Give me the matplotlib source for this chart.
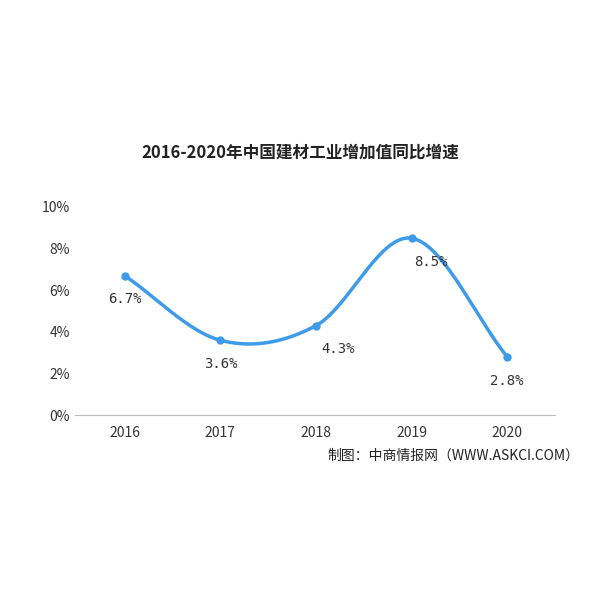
import numpy as np
import matplotlib
matplotlib.use("Agg")
import matplotlib.pyplot as plt

plt.rcParams['font.family'] = ['Noto Sans CJK SC', 'DejaVu Sans']

years = [2016, 2017, 2018, 2019, 2020]
growth = [6.7, 3.6, 4.3, 8.5, 2.8]
labels = ["6.7%", "3.6%", "4.3%", "8.5%", "2.8%"]
yticks = [0, 2, 4, 6, 8, 10]
label_dx = [0, 0, 16, 14, 0]

def catmull(x, y, n=40):
    x = np.asarray(x, float); y = np.asarray(y, float)
    px = np.concatenate([[2*x[0]-x[1]], x, [2*x[-1]-x[-2]]])
    py = np.concatenate([[2*y[0]-y[1]], y, [2*y[-1]-y[-2]]])
    xs, ys = [], []
    t = np.linspace(0, 1, n)
    for i in range(1, len(px)-2):
        p0, p1, p2, p3 = py[i-1], py[i], py[i+1], py[i+2]
        yy = 0.5*((2*p1) + (-p0+p2)*t + (2*p0-5*p1+4*p2-p3)*t**2 + (-p0+3*p1-3*p2+p3)*t**3)
        xx = px[i] + (px[i+1]-px[i])*t
        xs.append(xx); ys.append(yy)
    return np.concatenate(xs), np.concatenate(ys)

fig = plt.figure(figsize=(6, 6), dpi=100)
ax = fig.add_axes([0.125, 0.308, 0.8, 0.347])
sx, sy = catmull(years, growth)
ax.plot(sx, sy, color='#3d9be9', lw=2.5)
ax.plot(years, growth, 'o', color='#3d9be9', ms=5)
for x, y, l, dx in zip(years, growth, labels, label_dx):
    ax.annotate(l, (x, y), xytext=(dx, -20), textcoords='offset points',
                ha='center', fontsize=10, family='DejaVu Sans Mono', color='#333333')
ax.set_xlim(2015.48, 2020.5)
ax.set_ylim(0, 10)
ax.set_yticks(yticks)
ax.set_yticklabels([f"{v}%" for v in yticks])
ax.set_xticks(years)
for s in ['top', 'right', 'left']:
    ax.spines[s].set_visible(False)
ax.spines['bottom'].set_color('#bbbbbb')
ax.tick_params(length=0, labelsize=10, colors='#333333')
ax.tick_params(axis='x', pad=8)
fig.text(0.5, 0.745, "2016-2020年中国建材工业增加值同比增速", ha='center', va='center',
         fontsize=12, fontweight='bold', color='#222222')
fig.text(0.965, 0.24, "制图：中商情报网（WWW.ASKCI.COM）", ha='right', va='center',
         fontsize=10, color='#222222')
fig.savefig("out.png")
